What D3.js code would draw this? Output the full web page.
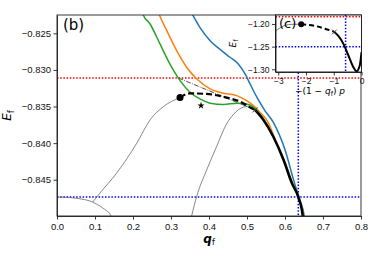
<!DOCTYPE html>
<html>
<head>
<meta charset="utf-8">
<script src="https://cdn.jsdelivr.net/npm/d3@7"></script>
<style>
  body { margin: 0; background: #fff; }
  svg { font-family: "DejaVu Sans", sans-serif; }
  .axis path, .axis line { stroke: #222; stroke-width: 0.9; }
  .axis text { fill: #111; }
</style>
</head>
<body>
<div id="chart"></div>
<script>
// main panel (b): [q_f, E_f]
var blueCurve = [[0.352,-0.8220],[0.376,-0.82418],[0.403,-0.82601],[0.433,-0.82737],[0.455,-0.82827],
  [0.477,-0.82918],[0.495,-0.83055],[0.508,-0.83191],[0.526,-0.83373],[0.547,-0.83555],[0.569,-0.83714],
  [0.600,-0.84091],[0.625,-0.84546],[0.639,-0.84773],[0.6505,-0.84992],[0.652,-0.8505]];
var orangeCurve = [[0.266,-0.8220],[0.2695,-0.8225],[0.289,-0.82464],[0.315,-0.82737],[0.341,-0.82963],
  [0.368,-0.83123],[0.403,-0.83259],[0.438,-0.83318],[0.473,-0.83351],[0.499,-0.83419],[0.517,-0.83487],
  [0.534,-0.83577],[0.555,-0.83710],[0.575,-0.83960],[0.598,-0.84228],[0.620,-0.84546],[0.6365,-0.84737],
  [0.648,-0.84992],[0.649,-0.8505]];
var greenCurve = [[0.2235,-0.8220],[0.227,-0.8225],[0.245,-0.82373],[0.271,-0.82645],[0.297,-0.82918],
  [0.324,-0.83146],[0.350,-0.83304],[0.376,-0.83396],[0.403,-0.83454],[0.438,-0.83473],[0.473,-0.83454],
  [0.499,-0.83464],[0.517,-0.83509],[0.534,-0.83600],[0.555,-0.83760],[0.575,-0.83975],[0.597,-0.84228],
  [0.619,-0.84546],[0.6358,-0.84737],[0.6474,-0.84992],[0.648,-0.8505]];
var blackDashed = [[0.3237,-0.83378],[0.350,-0.83321],[0.394,-0.83328],[0.4466,-0.83378],[0.4816,-0.83433],
  [0.5124,-0.83523],[0.521,-0.83546]];
var blackSolid = [[0.521,-0.83546],[0.543,-0.83682],[0.569,-0.83910],[0.596,-0.84228],[0.618,-0.84546],
  [0.635,-0.84737],[0.6466,-0.84992],[0.6475,-0.8505]];
var tangentLine = [[0.3195,-0.8311],[0.521,-0.83546]];
var thinA = [[0,-0.84736],[0.03,-0.84741],[0.06,-0.84760],[0.085,-0.84787],[0.105,-0.84835],
  [0.125,-0.84903],[0.142,-0.84992],[0.145,-0.8505]];
var thinB = [[0.094,-0.84805],[0.113,-0.84682],[0.157,-0.84409],[0.210,-0.84000],[0.245,-0.83682],
  [0.280,-0.83501],[0.3237,-0.83378]];
var thinC = [[0.352,-0.8505],[0.3545,-0.84992],[0.3676,-0.84728],[0.394,-0.84364],[0.420,-0.84046],
  [0.446,-0.83740],[0.464,-0.83610],[0.490,-0.83509],[0.508,-0.83495],[0.521,-0.83539]];
var dotPoint = [0.3237, -0.83378];
var starPoint = [0.379, -0.83487];
var crossPoint = [0.521, -0.83546];
var redLevel = -0.8311;
var blueLevel = -0.84736;
var blueQ = 0.635;
var xTicks = [0, 0.1, 0.2, 0.3, 0.4, 0.5, 0.6, 0.7, 0.8];
var yTicks = [-0.825, -0.830, -0.835, -0.840, -0.845];

// inset (c): [-(1-q_f) p, E_f]
var insetThin = [[-3.1,-1.2160],[-2.939,-1.2088],[-2.76,-1.2033],[-2.509,-1.2007],[-2.175,-1.2007]];
var insetDashed = [[-2.175,-1.2007],[-1.673,-1.2044],[-1.315,-1.2104],[-0.978,-1.2176]];
var insetSolid = [[-0.978,-1.2176],[-0.835,-1.2265],[-0.656,-1.2434],[-0.476,-1.2690],[-0.297,-1.2948],
  [-0.179,-1.3043],[-0.061,-1.2911],[0,-1.262]];
var insetDot = [-2.175, -1.2007];
var insetCross = [-0.978, -1.2176];
var insetRed = -1.184;
var insetBlueE = -1.25;
var insetBlueX = -0.573;
var insetXTicks = [-3, -2, -1, 0];
var insetYTicks = [-1.20, -1.25, -1.30];

var svg = d3.select('#chart').append('svg')
  .attr('width', 381).attr('height', 254);

var x = d3.scaleLinear().domain([0, 0.8]).range([57, 361]);
var y = d3.scaleLinear().domain([-0.84995, -0.8225]).range([216, 15]);

function minus(s) { return s.replace('-', '\u2212'); }

svg.append('clipPath').attr('id', 'mainClip')
  .append('rect').attr('x', 57).attr('y', 15).attr('width', 304).attr('height', 201);

var plot = svg.append('g').attr('clip-path', 'url(#mainClip)');

var line = d3.line()
  .x(function (d) { return x(d[0]); })
  .y(function (d) { return y(d[1]); })
  .curve(d3.curveMonotoneX);

// guide lines
plot.append('line')
  .attr('x1', 57).attr('x2', 361).attr('y1', y(redLevel)).attr('y2', y(redLevel))
  .attr('stroke', '#ff0000').attr('stroke-width', 1.5).attr('stroke-dasharray', '1.5,1.7');
plot.append('line')
  .attr('x1', 57).attr('x2', 361).attr('y1', y(blueLevel)).attr('y2', y(blueLevel))
  .attr('stroke', '#0000ff').attr('stroke-width', 1.5).attr('stroke-dasharray', '1.5,1.7');
plot.append('line')
  .attr('x1', x(blueQ)).attr('x2', x(blueQ)).attr('y1', 15).attr('y2', 216)
  .attr('stroke', '#0000ff').attr('stroke-width', 1.5).attr('stroke-dasharray', '1.5,1.7');

// thin branches
[thinA, thinB, thinC].forEach(function (d) {
  plot.append('path').attr('d', line(d))
    .attr('fill', 'none').attr('stroke', '#555').attr('stroke-width', 0.7);
});

plot.append('path').attr('d', d3.line().x(function (d) { return x(d[0]); }).y(function (d) { return y(d[1]); })(tangentLine))
  .attr('fill', 'none').attr('stroke', '#222').attr('stroke-width', 0.8)
  .attr('stroke-dasharray', '5,1.3,0.8,1.3');

[[blueCurve, '#1f77b4'], [orangeCurve, '#ff7f0e'], [greenCurve, '#2ca02c']].forEach(function (s) {
  plot.append('path').attr('d', line(s[0]))
    .attr('fill', 'none').attr('stroke', s[1]).attr('stroke-width', 1.5);
});

plot.append('path').attr('d', line(blackSolid))
  .attr('fill', 'none').attr('stroke', '#000').attr('stroke-width', 2.5);
plot.append('path').attr('d', line(blackDashed))
  .attr('fill', 'none').attr('stroke', '#000').attr('stroke-width', 2.2)
  .attr('stroke-dasharray', '6,3');

plot.append('circle')
  .attr('cx', x(dotPoint[0])).attr('cy', y(dotPoint[1])).attr('r', 3.5).attr('fill', '#000');
plot.append('path')
  .attr('d', d3.symbol().type(d3.symbolStar).size(16)())
  .attr('transform', 'translate(' + x(starPoint[0]) + ',' + y(starPoint[1]) + ')')
  .attr('fill', '#000');

function cross(g, cx, cy, r) {
  g.append('path')
    .attr('d', 'M' + (cx - r) + ',' + (cy - r) + 'L' + (cx + r) + ',' + (cy + r) +
      'M' + (cx - r) + ',' + (cy + r) + 'L' + (cx + r) + ',' + (cy - r))
    .attr('stroke', '#333').attr('stroke-width', 0.9);
}
cross(plot, x(crossPoint[0]), y(crossPoint[1]), 2.5);

// main axes
svg.append('g').attr('class', 'axis')
  .attr('transform', 'translate(0,216)')
  .call(d3.axisBottom(x).tickValues(xTicks).tickFormat(d3.format('.1f')).tickSize(3.5).tickPadding(3.5).tickSizeOuter(0))
  .selectAll('text').style('font-size', '9.5px');
svg.append('g').attr('class', 'axis')
  .attr('transform', 'translate(57,0)')
  .call(d3.axisLeft(y).tickValues(yTicks).tickFormat(function (d) { return minus(d3.format('.3f')(d)); })
    .tickSize(3.5).tickPadding(2.5).tickSizeOuter(0))
  .selectAll('text').style('font-size', '9.5px');

svg.append('rect')
  .attr('x', 57).attr('y', 15).attr('width', 304).attr('height', 201)
  .attr('fill', 'none').attr('stroke', '#222').attr('stroke-width', 0.9);

svg.append('text').attr('x', 63).attr('y', 30).style('font-size', '15px').text('(b)');

var xl = svg.append('text').attr('x', 209).attr('y', 243)
  .attr('text-anchor', 'middle').style('font-size', '12px');
xl.append('tspan').style('font-style', 'italic').style('font-weight', 'bold').text('q');
xl.append('tspan').attr('dy', 2).style('font-size', '8px').text('f');

var yl = svg.append('text').attr('transform', 'translate(11,115.5) rotate(-90)')
  .attr('text-anchor', 'middle').style('font-size', '12px');
yl.append('tspan').style('font-style', 'italic').text('E');
yl.append('tspan').attr('dy', 2.5).style('font-size', '8.5px').text('f');

// inset (c)
var xi = d3.scaleLinear().domain([-3.1, 0]).range([275.5, 361.5]);
var yi = d3.scaleLinear().domain([-1.306, -1.1802]).range([72, 15]);

svg.append('rect')
  .attr('x', 275.5).attr('y', 15).attr('width', 86).attr('height', 57).attr('fill', '#fff');

svg.append('clipPath').attr('id', 'insetClip')
  .append('rect').attr('x', 275.5).attr('y', 15).attr('width', 86).attr('height', 57);
var inset = svg.append('g').attr('clip-path', 'url(#insetClip)');

var iline = d3.line()
  .x(function (d) { return xi(d[0]); })
  .y(function (d) { return yi(d[1]); })
  .curve(d3.curveMonotoneX);

inset.append('line')
  .attr('x1', 275.5).attr('x2', 361.5).attr('y1', yi(insetRed)).attr('y2', yi(insetRed))
  .attr('stroke', '#ff0000').attr('stroke-width', 1.5).attr('stroke-dasharray', '1.5,1.7');
inset.append('line')
  .attr('x1', 275.5).attr('x2', 361.5).attr('y1', yi(insetBlueE)).attr('y2', yi(insetBlueE))
  .attr('stroke', '#0000ff').attr('stroke-width', 1.5).attr('stroke-dasharray', '1.5,1.7');
inset.append('line')
  .attr('x1', xi(insetBlueX)).attr('x2', xi(insetBlueX)).attr('y1', 15).attr('y2', 72)
  .attr('stroke', '#0000ff').attr('stroke-width', 1.5).attr('stroke-dasharray', '1.5,1.7');

inset.append('path').attr('d', iline(insetThin))
  .attr('fill', 'none').attr('stroke', '#555').attr('stroke-width', 0.8);
inset.append('path').attr('d', iline(insetDashed))
  .attr('fill', 'none').attr('stroke', '#000').attr('stroke-width', 2)
  .attr('stroke-dasharray', '5,3');
inset.append('path').attr('d', iline(insetSolid))
  .attr('fill', 'none').attr('stroke', '#000').attr('stroke-width', 2);
inset.append('circle')
  .attr('cx', xi(insetDot[0])).attr('cy', yi(insetDot[1])).attr('r', 3).attr('fill', '#000');
cross(inset, xi(insetCross[0]), yi(insetCross[1]), 2.3);

svg.append('g').attr('class', 'axis')
  .attr('transform', 'translate(0,72)')
  .call(d3.axisBottom(xi).tickValues(insetXTicks).tickFormat(function (d) { return minus('' + d); })
    .tickSize(3.5).tickPadding(2).tickSizeOuter(0))
  .selectAll('text').style('font-size', '8.5px');
svg.append('g').attr('class', 'axis')
  .attr('transform', 'translate(275.5,0)')
  .call(d3.axisLeft(yi).tickValues(insetYTicks).tickFormat(function (d) { return minus(d3.format('.2f')(d)); })
    .tickSize(3.5).tickPadding(2.5).tickSizeOuter(0))
  .selectAll('text').style('font-size', '8.5px');

svg.append('rect')
  .attr('x', 275.5).attr('y', 15).attr('width', 86).attr('height', 57)
  .attr('fill', 'none').attr('stroke', '#111').attr('stroke-width', 0.9);

svg.append('text').attr('x', 279).attr('y', 28).style('font-size', '13px').text('(c)');

var ixl = svg.append('text').attr('x', 320).attr('y', 93.5)
  .attr('text-anchor', 'middle').style('font-size', '9px');
ixl.append('tspan').text('\u2212(1 \u2212 ');
ixl.append('tspan').style('font-style', 'italic').text('q');
ixl.append('tspan').attr('dy', 2).style('font-size', '6.5px').text('f');
ixl.append('tspan').attr('dy', -2).text(') ');
ixl.append('tspan').style('font-style', 'italic').text('p');

var iyl = svg.append('text').attr('transform', 'translate(236,43.5) rotate(-90)')
  .attr('text-anchor', 'middle').style('font-size', '9px');
iyl.append('tspan').style('font-style', 'italic').text('E');
iyl.append('tspan').attr('dy', 2).style('font-size', '6.5px').text('f');
</script>
</body>
</html>
